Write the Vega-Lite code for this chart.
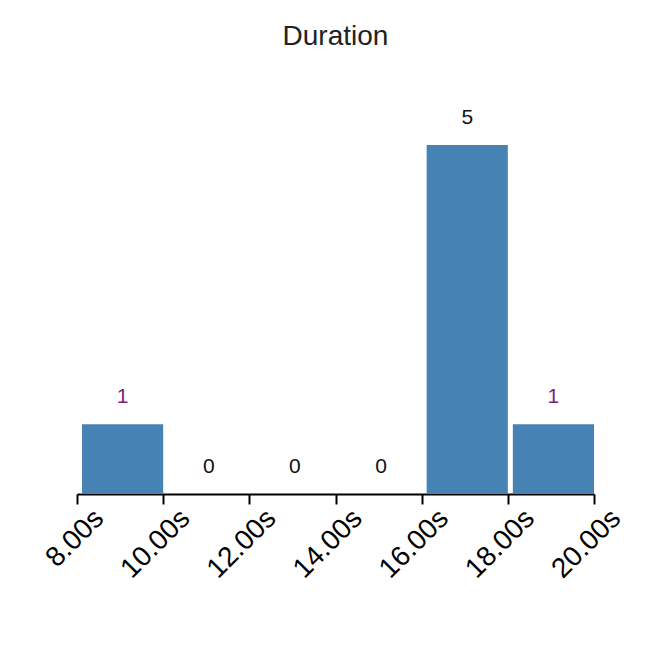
{
  "$schema": "https://vega.github.io/schema/vega-lite/v6.json",
  "width": 517,
  "height": 349,
  "autosize": {"type": "none"},
  "padding": {"left": 77, "top": 145, "right": 57, "bottom": 165},
  "background": "white",
  "config": {"view": {"stroke": null}, "font": "Liberation Sans"},
  "title": {
    "text": "Duration",
    "fontSize": 28,
    "fontWeight": "normal",
    "color": "#222222",
    "font": "Liberation Sans",
    "anchor": "middle",
    "baseline": "alphabetic",
    "offset": 34
  },
  "data": {
    "values": [
      {"bin_start": 8, "bin_end": 10, "mid": 9, "count": 1},
      {"bin_start": 10, "bin_end": 12, "mid": 11, "count": 0},
      {"bin_start": 12, "bin_end": 14, "mid": 13, "count": 0},
      {"bin_start": 14, "bin_end": 16, "mid": 15, "count": 0},
      {"bin_start": 16, "bin_end": 18, "mid": 17, "count": 5},
      {"bin_start": 18, "bin_end": 20, "mid": 19, "count": 1}
    ]
  },
  "layer": [
    {
      "mark": {"type": "rect", "color": "#4682b4", "xOffset": 5, "x2Offset": 0},
      "encoding": {
        "x": {
          "field": "bin_start",
          "type": "quantitative",
          "scale": {"domain": [8, 20], "nice": false, "zero": false},
          "axis": {
            "values": [8, 10, 12, 14, 16, 18, 20],
            "labelExpr": "format(datum.value, '.2f') + 's'",
            "title": null,
            "grid": false,
            "domainColor": "black",
            "domainWidth": 2,
            "tickColor": "black",
            "tickWidth": 2,
            "tickSize": 10,
            "labelAngle": -45,
            "labelAlign": "right",
            "labelBaseline": "middle",
            "labelFontSize": 28,
            "labelFont": "Liberation Sans",
            "labelColor": "black",
            "labelPadding": 10,
            "labelOffset": 22,
            "labelOverlap": false,
            "labelFlush": false,
            "labelBound": false
          }
        },
        "x2": {"field": "bin_end"},
        "y": {
          "field": "count",
          "type": "quantitative",
          "scale": {"domain": [0, 5], "nice": false},
          "axis": null
        },
        "y2": {"datum": 0}
      }
    },
    {
      "mark": {"type": "text", "fontSize": 21, "font": "Liberation Sans", "baseline": "middle", "align": "center", "dy": -27, "xOffset": 2.5},
      "encoding": {
        "x": {"field": "mid", "type": "quantitative"},
        "y": {"field": "count", "type": "quantitative"},
        "text": {"field": "count", "type": "quantitative"},
        "color": {
          "condition": {"test": "datum.count == 1", "value": "#7b1f7b"},
          "value": "#111111"
        }
      }
    }
  ]
}
